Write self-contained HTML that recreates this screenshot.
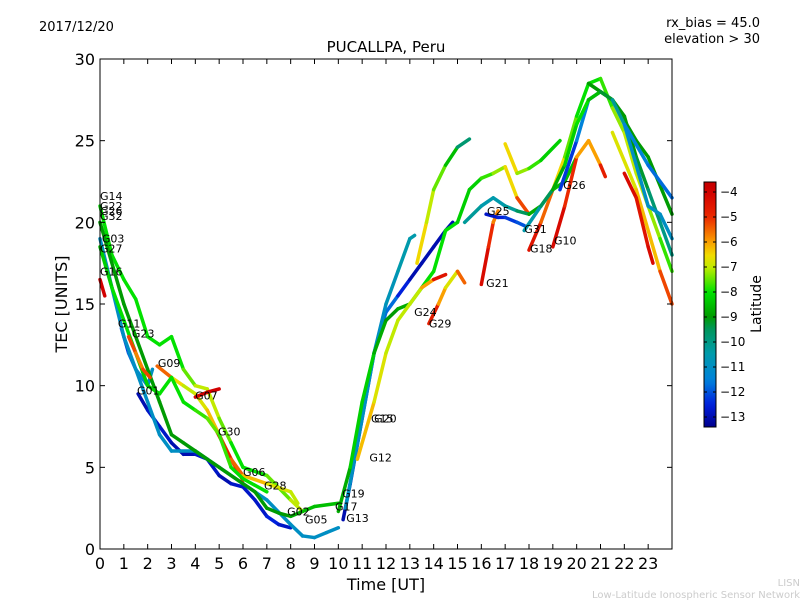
<!DOCTYPE html>
<html><head><meta charset="utf-8"><style>
body{margin:0;background:#fff;}
svg text{font-family:"DejaVu Sans","Liberation Sans",sans-serif;}
</style></head><body>
<svg id="chart" width="800" height="600" xmlns="http://www.w3.org/2000/svg">
<rect width="800" height="600" fill="#fff"/>
<text x="39" y="31" font-size="13">2017/12/20</text>
<text x="760" y="27" font-size="13" text-anchor="end">rx_bias = 45.0</text>
<text x="760" y="43" font-size="13" text-anchor="end">elevation &gt; 30</text>
<text x="386" y="52" font-size="15" text-anchor="middle">PUCALLPA, Peru</text>
<text x="386" y="590" font-size="16" text-anchor="middle">Time [UT]</text>
<text transform="translate(67,304) rotate(-90)" font-size="16" text-anchor="middle">TEC [UNITS]</text>
<text x="800" y="586" font-size="10" fill="#ccc" text-anchor="end">LISN</text>
<text x="800" y="598" font-size="10" fill="#ccc" text-anchor="end">Low-Latitude Ionospheric Sensor Network</text>
<g id="marks"></g>
<g id="axes"></g>
<g id="cbar"></g>
</svg>
<script>
const xTicks=[0,1,2,3,4,5,6,7,8,9,10,11,12,13,14,15,16,17,18,19,20,21,22,23];
const yTicks=[0,5,10,15,20,25,30];
const cbTicks=[-4,-5,-6,-7,-8,-9,-10,-11,-12,-13];
const latMin=-13.4, latMax=-3.6;
const trackTimes=[
[0,0.5,1,1.5,2,2.5,3,3.5,4,4.5,5,5.5,6,7,8,8.5],
[0.9,1.2,1.5,2,2.2],
[1.6,2,2.5,3,3.5,4,4.5,5,5.5,6,6.5,7,7.5,8],
[0,0.5,1,1.5,2,2.5,3,4,5,6,7,8,8.5,9,9.5,10],
[2.4,3,3.5,4,4.5,5,5.5,6],
[4.9,5.5,6,7,8,8.3],
[4,4.5,5],
[0,1,2,2.5,3,3.5,4,5,6,6.5,7,7.5,8,8.5,9,10],
[0,0.5,1,1.5,2,2.5,3,3.5,4,4.5,5,5.5,6,7],
[0,0.2],
[1.2,1.5,1.8,2.1],
[10.2,10.5,11,11.5,12,12.5,13,13.5,14,14.5,14.8],
[10.3,11,11.5,12,12.5,13,13.2],
[10,10.5,11,11.5,12,12.5,13,13.5,14,14.5,15,15.5,16,16.5,17,17.5,18],
[10.8,11.5,12,12.5,13,13.5,14,14.5],
[13.8,14.2,14.5,15,15.3],
[13.3,13.7,14,14.5,15,15.5],
[16,16.3,16.5,16.7],
[16.2,16.7,17,17.5,17.8],
[15.3,16,16.5,17,17.5,18,18.5,19,19.5,20],
[17,17.5,18,18.5,19.3],
[18,18.5,19,19.5,20,20.5,21,21.5,22,22.5,23,23.5,24],
[19,19.5,20,20.5,21,21.2],
[19.3,20,20.5,21,21.5,22,22.5,23,23.5,24],
[20.5,21.5,22.5,23,24],
[21.5,22.5,23.5,24],
[22,23,23.5,24],
[22,22.5,23,23.2],
[17.8,18.5,19,19.5,20,20.5,21,21.5,22,23,24]
];
const trackTec=[
[21,18,16.5,15.3,13,12.5,13,11,10,9.8,8,6.5,5,4.5,3,2.3],
[13.5,12,11,10,11],
[9.5,8.5,7.5,6.5,5.8,5.8,5.5,4.5,4,3.8,3,2,1.5,1.3],
[19,16,13,11,9,7,6,6,5,4,3,1.5,0.8,0.7,1,1.3],
[11.2,10.5,10,9.5,8.5,7,5.5,4.2],
[7.2,5.5,4.5,4,3.5,2.8],
[9.3,9.6,9.8],
[20,15,11,9,7,6.5,6,5,4,3.5,2.5,2.2,2,2.3,2.6,2.8],
[18.5,16,14,12,10,9.5,10.5,9,8.5,8,7,5,4.3,3.5],
[16.5,15.5],
[13,12,11,10.5],
[1.8,4,8,12,14.5,15.5,16.5,17.5,18.5,19.5,20],
[2.5,8,12,15,17,19,19.2],
[2.3,5,9,12,14,14.7,15,16,17,19.5,20,22,22.7,23,23.4,21.5,20.5],
[5.5,9,12,14,15,16,16.5,16.8],
[13.8,15,16,17,16.3],
[17.5,20,22,23.5,24.6,25.1],
[16.2,18.5,20,20.7],
[20.5,20.3,20.3,20,19.8],
[20,21,21.5,21,20.7,20.5,21,22,22.5,24],
[24.8,23,23.3,23.8,25],
[18.3,20,22,24,26.5,28.5,28.8,27,25.5,23,21,19,17],
[18.5,21,24,25,23.5,22.8],
[22,25,27.5,28,27.5,26.5,24,22,20,18],
[28.5,27.5,25,24,20.5],
[25.5,22,17,15],
[26,21,20.5,19],
[23,21.5,18.5,17.5],
[19.5,21,22,23.5,26,27.5,28,27.5,26,23.5,21.5]
];
const trackLat=[
[-8,-8,-8,-8,-8,-8,-8,-8,-7,-7,-7,-8,-8,-8,-7,-7],
[-12.5,-12,-11.5,-11,-11],
[-13,-13,-12.5,-13,-13,-13,-12.5,-13,-13,-12.5,-13,-12.5,-12.5,-13],
[-11,-11,-11,-11,-11,-11,-11,-11,-11,-11,-11,-11,-11,-11,-11,-11],
[-5,-6,-7,-7,-6.5,-6,-5,-5],
[-4.5,-5,-6,-6.5,-7,-7],
[-4,-4,-4],
[-9,-9,-9,-9,-9,-9,-9,-9,-9,-9,-9,-9,-9,-8.5,-8.5,-8.5],
[-8.5,-8,-8,-8,-8.5,-8,-8,-8,-8,-7.5,-7.5,-8,-8,-8],
[-4,-4],
[-5,-5.5,-6,-4.5],
[-13,-13,-12.5,-12,-11.5,-12,-13,-13,-13,-13,-13],
[-11,-11,-11,-11,-10.5,-10.5,-10.5],
[-9,-8.5,-8,-8.5,-9,-9,-8.5,-8,-8,-8,-8,-8.5,-8,-7.5,-7,-6,-4.5],
[-6,-6.5,-7,-7,-7,-7,-5,-4],
[-4,-5.5,-6.5,-7,-4],
[-6,-7,-7,-8,-9,-10.5],
[-4,-4.5,-5.5,-6],
[-13,-12.5,-12.5,-12,-12],
[-10,-10.5,-10.5,-10.5,-10,-9,-8.5,-8.5,-8.5,-8.5],
[-6,-7,-7.5,-8,-8.5],
[-4,-5,-6,-7,-8,-8,-8,-7.5,-7,-7,-7,-7.5,-8],
[-4,-4.5,-5.5,-6.5,-5.5,-4],
[-12.5,-12,-11,-9.5,-9,-9,-9,-9.5,-10,-10],
[-9,-9,-9,-9,-9],
[-7,-6.5,-6,-4.5],
[-11,-11,-11,-11],
[-4,-4.5,-4.5,-4],
[-11,-10,-9,-8.5,-8,-8,-9,-9.5,-11,-12,-11.5]
];
const labelNames=["G14","G22","G26","G32","G03","G27","G16","G11","G23","G09","G01","G07","G30","G06","G28","G02","G05","G17","G19","G13","G12","G15","G20","G24","G29","G21","G25","G31","G18","G10","G26"];
const labelT=[0,0,0,0,0.08,0,0,0.75,1.34,2.43,1.55,3.99,4.95,6.0,6.88,7.85,8.6,9.86,10.16,10.33,11.3,11.37,11.5,13.18,13.8,16.2,16.24,17.8,18.04,19.05,19.43];
const labelV=[21.6,21.0,20.7,20.4,19.0,18.4,17.0,13.8,13.2,11.4,9.7,9.4,7.2,4.7,3.9,2.3,1.8,2.6,3.4,1.9,5.6,8.0,8.0,14.5,13.8,16.3,20.7,19.6,18.4,18.9,22.3];

const X0=100,X1=672,Y0=549,Y1=59;
const xs=t=>X0+t*(X1-X0)/24;
const ys=v=>Y0-v*(Y0-Y1)/30;
const NS="http://www.w3.org/2000/svg";
const cmapStops=[[0,0,0,140],[0.09,0,30,220],[0.19,0,130,220],[0.30,0,155,170],[0.40,0,150,90],[0.45,0,155,0],[0.55,0,225,0],[0.65,190,235,0],[0.70,240,220,0],[0.755,250,160,0],[0.857,235,40,0],[0.96,210,0,0],[1,195,0,0]];
function cmap(v){v=Math.max(0,Math.min(1,v));
 for(let i=0;i<cmapStops.length-1;i++){const a=cmapStops[i],b=cmapStops[i+1];
  if(v<=b[0]){const f=(v-a[0])/(b[0]-a[0]);
   return `rgb(${Math.round(a[1]+f*(b[1]-a[1]))},${Math.round(a[2]+f*(b[2]-a[2]))},${Math.round(a[3]+f*(b[3]-a[3]))})`;}}
 return 'rgb(195,0,0)';}
const latScale=l=>(l-latMin)/(latMax-latMin);
const marks=document.getElementById('marks');
trackTimes.forEach((tt,i)=>{
 const g=document.createElementNS(NS,'g');
 
 
 for(let k=0;k<tt.length-1;k++){
  const l=document.createElementNS(NS,'line');
  l.setAttribute('x1',xs(tt[k]));l.setAttribute('y1',ys(trackTec[i][k]));
  l.setAttribute('x2',xs(tt[k+1]));l.setAttribute('y2',ys(trackTec[i][k+1]));
  l.setAttribute('stroke',cmap(latScale((trackLat[i][k]+trackLat[i][k+1])/2)));
  l.setAttribute('stroke-width','3.5');l.setAttribute('stroke-linecap','round');
  
  
  g.appendChild(l);
 }
 marks.appendChild(g);
});
labelNames.forEach((n,i)=>{
 const t=document.createElementNS(NS,'text');
 t.setAttribute('x',xs(labelT[i]));t.setAttribute('y',ys(labelV[i])+4);
 t.setAttribute('font-size','11');t.textContent=n;
 
 
 marks.appendChild(t);
});
const axes=document.getElementById('axes');
function add(p,tag,attrs,txt){const e=document.createElementNS(NS,tag);for(const k in attrs)e.setAttribute(k,attrs[k]);if(txt!==undefined)e.textContent=txt;p.appendChild(e);return e;}
const frame=add(axes,'rect',{x:X0,y:Y1,width:X1-X0,height:Y0-Y1,fill:'none',stroke:'#000','stroke-width':1});


xTicks.forEach(t=>{const x=xs(t);
 add(axes,'line',{x1:x,y1:Y0,x2:x,y2:Y0-5,stroke:'#000'});
 add(axes,'line',{x1:x,y1:Y1,x2:x,y2:Y1+5,stroke:'#000'});
 const tx=add(axes,'text',{x:x,y:Y0+20,'font-size':16,'text-anchor':'middle'},String(t));
 
 
});
yTicks.forEach(v=>{const y=ys(v);
 add(axes,'line',{x1:X0,y1:y,x2:X0+5,y2:y,stroke:'#000'});
 add(axes,'line',{x1:X1,y1:y,x2:X1-5,y2:y,stroke:'#000'});
 const tx=add(axes,'text',{x:X0-5,y:y+6,'font-size':16,'text-anchor':'end'},String(v));
 
 
});
const cb=document.getElementById('cbar');
const CX=704,CW=12,CT=182,CB=427;
const grad=add(cb,'defs',{});
const lg=add(grad,'linearGradient',{id:'cmapg',x1:0,y1:1,x2:0,y2:0});
for(let i=0;i<=40;i++)add(lg,'stop',{offset:i/40,'stop-color':cmap(i/40)});
add(cb,'rect',{x:CX,y:CT,width:CW,height:CB-CT,fill:'url(#cmapg)',stroke:'#000'});
const cy=l=>CB-latScale(l)*(CB-CT);
cbTicks.forEach(l=>{const y=cy(l);
 add(cb,'line',{x1:CX,y1:y,x2:CX+3,y2:y,stroke:'#000'});
 add(cb,'line',{x1:CX+CW,y1:y,x2:CX+CW-3,y2:y,stroke:'#000'});
 const tx=add(cb,'text',{x:CX+CW+4,y:y+4,'font-size':12},String(l).replace('-','\u2212'));
 
 
});
const ct=add(cb,'text',{transform:'translate(761,304) rotate(-90)','font-size':14,'text-anchor':'middle'},'Latitude');


</script>
</body></html>
